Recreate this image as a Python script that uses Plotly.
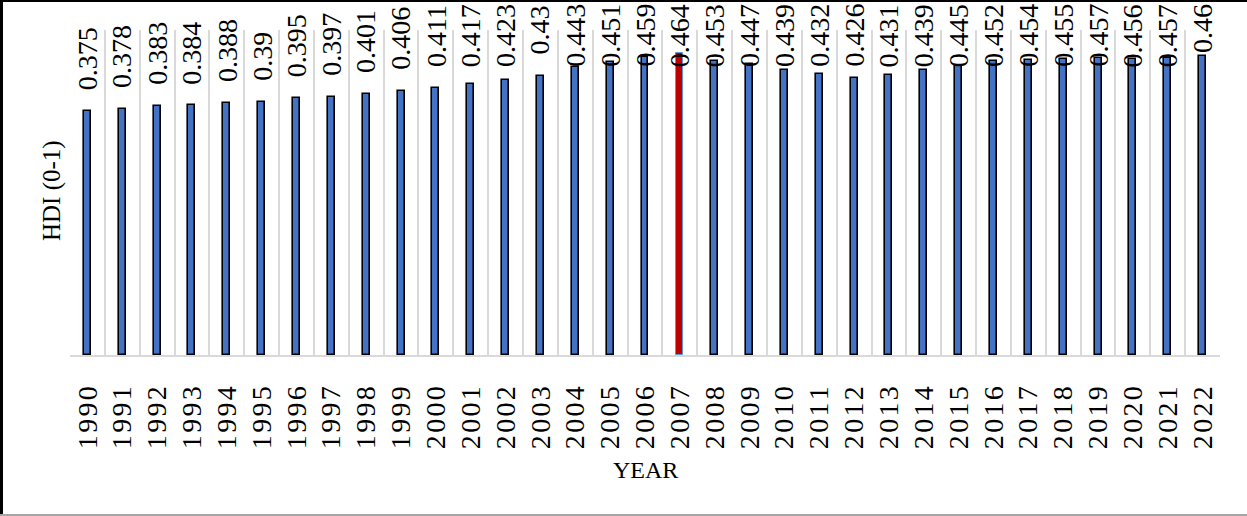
import plotly.graph_objects as go

years = list(range(1990, 2023))
hdi = [0.375, 0.378, 0.383, 0.384, 0.388, 0.39, 0.395, 0.397, 0.401, 0.406,
       0.411, 0.417, 0.423, 0.43, 0.443, 0.451, 0.459, 0.464, 0.453, 0.447,
       0.439, 0.432, 0.426, 0.431, 0.439, 0.445, 0.452, 0.454, 0.455, 0.457,
       0.456, 0.457, 0.46]
labels = [f"{v:g}" for v in hdi]
year_labels = ["\u200a".join(str(y)) for y in years]
highlight_year = 2007

W, H = 1247, 516
ML, MR, MT, MB = 70, 27, 30, 161
PW, PH = W - ML - MR, H - MT - MB
YMAX = 0.5
FONT = "Liberation Serif"
LBL_SIZE = 28

fill = ["#C00000" if y == highlight_year else "#4472C4" for y in years]
edge = ["#5B9BD5" if y == highlight_year else "#000000" for y in years]
edgew = [1 if y == highlight_year else 1.6 for y in years]

fig = go.Figure()
fig.add_trace(go.Bar(
    x=years, y=hdi, width=0.2,
    marker=dict(color=fill, line=dict(color=edge, width=edgew)),
    hoverinfo="x+y",
))

px_per_unit = PH / YMAX
annotations = []
for yr, v, t in zip(years, hdi, labels):
    # estimated text length in px (Liberation Serif: digits .5em, period .25em)
    length = sum(0.25 if c == "." else 0.5 for c in t) * LBL_SIZE
    bottom = v + 19 / px_per_unit
    top_limit = YMAX + (MT - 6) / px_per_unit
    bottom = min(bottom, top_limit - length / px_per_unit)
    annotations.append(dict(
        x=yr, y=bottom, xref="x", yref="y", text=t, showarrow=False,
        textangle=-90, yanchor="bottom", xanchor="center",
        font=dict(family=FONT, size=LBL_SIZE, color="#000000"),
    ))

annotations.append(dict(
    x=0.5, y=-(470 - (MT + PH)) / PH, xref="paper", yref="paper",
    text="YEAR", showarrow=False, xanchor="center", yanchor="middle",
    font=dict(family=FONT, size=24, color="#000000"),
))
annotations.append(dict(
    x=(52 - ML) / PW, y=((MT + PH) - 191) / PH, xref="paper", yref="paper",
    text="HDI (0-1)", showarrow=False, textangle=-90,
    xanchor="center", yanchor="middle",
    font=dict(family=FONT, size=25, color="#000000"),
))

def px_x(p):
    return (p - ML) / PW

def px_y(p):
    return ((MT + PH) - p) / PH

shapes = [
    dict(type="line", xref="paper", yref="paper", x0=px_x(1.5), x1=px_x(1.5),
         y0=px_y(0), y1=px_y(H), line=dict(color="#000000", width=3)),
    dict(type="line", xref="paper", yref="paper", x0=px_x(0), x1=px_x(W),
         y0=px_y(1), y1=px_y(1), line=dict(color="#000000", width=2)),
    dict(type="line", xref="paper", yref="paper", x0=px_x(0), x1=px_x(W),
         y0=px_y(515), y1=px_y(515), line=dict(color="#A6A6A6", width=2)),
]

fig.update_layout(
    width=W, height=H,
    margin=dict(l=ML, r=MR, t=MT, b=MB),
    paper_bgcolor="white", plot_bgcolor="white",
    showlegend=False, bargap=0,
    annotations=annotations, shapes=shapes,
    xaxis=dict(
        range=[years[0] - 0.5, years[-1] + 0.5],
        tickmode="array", tickvals=years, ticktext=year_labels,
        tickangle=-90, ticks="", ticklabelstandoff=18,
        tickfont=dict(family=FONT, size=28, color="#000000"),
        showgrid=False, zeroline=False,
        showline=True, linecolor="#D9D9D9", linewidth=2,
        minor=dict(tick0=years[0] - 0.5, dtick=1, showgrid=True,
                   gridcolor="#D9D9D9", gridwidth=1.5, ticks=""),
    ),
    yaxis=dict(range=[0, YMAX], showgrid=False, zeroline=False,
               showticklabels=False, ticks="", showline=False),
)

fig.write_html("out.html")
